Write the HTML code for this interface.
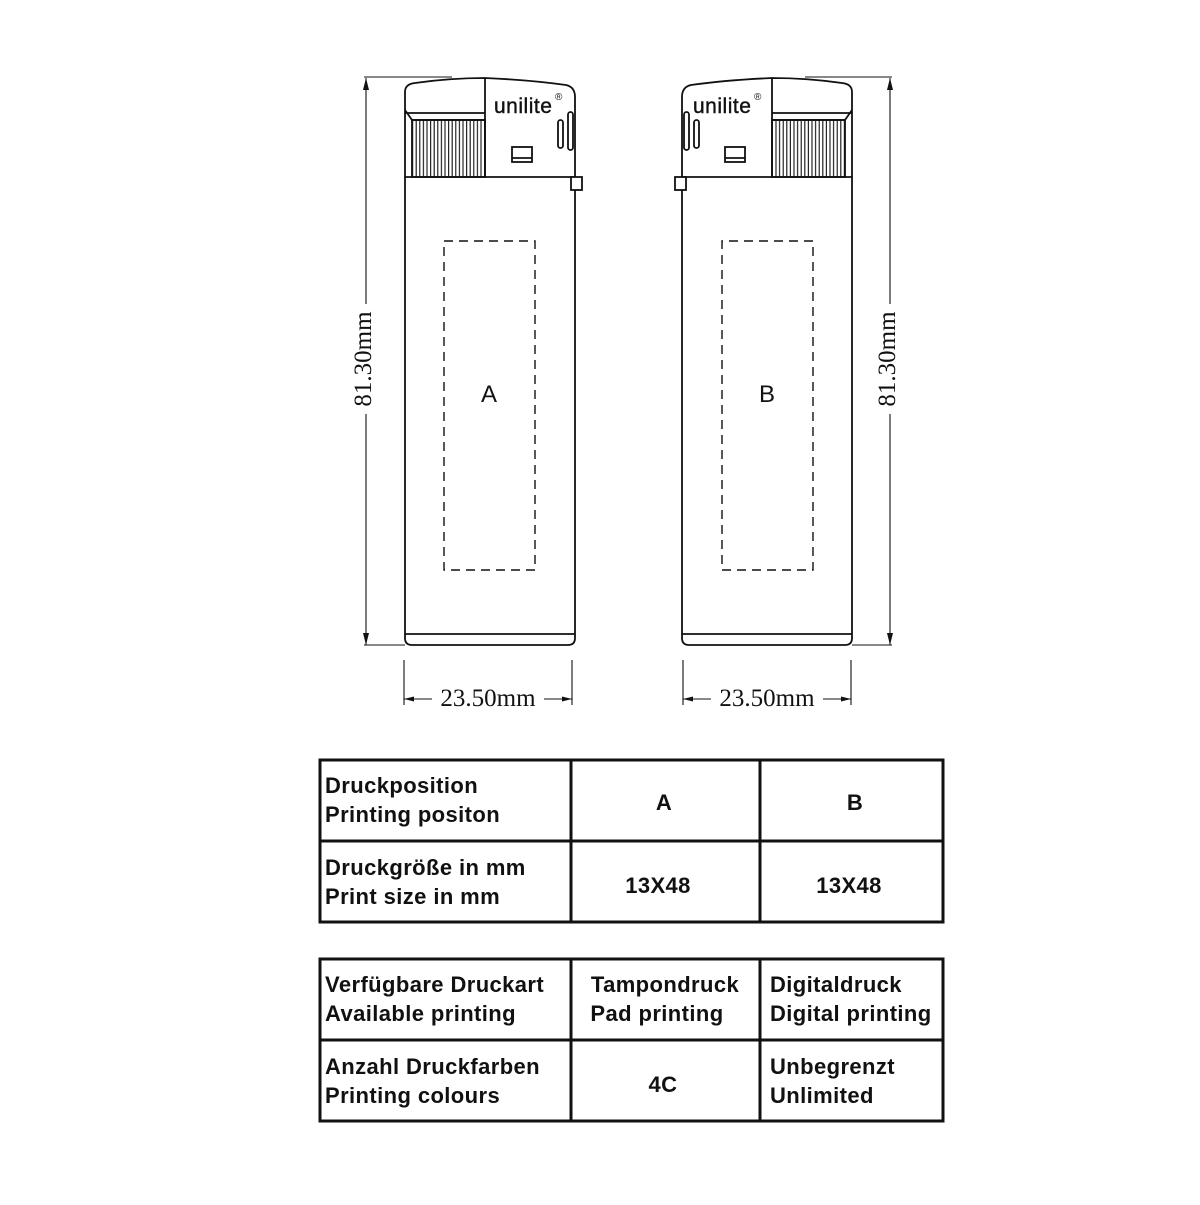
<!DOCTYPE html>
<html><head><style>html,body{margin:0;padding:0;background:#fff}</style></head><body>
<svg width="1200" height="1200" viewBox="0 0 1200 1200" xmlns="http://www.w3.org/2000/svg">
<defs>
<pattern id="kn" x="412" y="0" width="3.6" height="10" patternUnits="userSpaceOnUse">
<rect width="3.6" height="10" fill="#fff"/><line x1="0.6" y1="0" x2="0.6" y2="10" stroke="#111" stroke-width="1.1"/>
</pattern>
<g id="lt" fill="none" stroke="#111" stroke-width="1.8">
<rect x="412" y="120" width="73" height="57" fill="url(#kn)" stroke="#111"/>
<path d="M405,177 V92 Q405,84 415,83 Q450,78 485,78 Q530,80 566,85 Q575,87 575,97 V177" fill="none"/>
<path d="M405,110 L412,120 H485"/>
<line x1="405" y1="113" x2="485" y2="113"/>
<line x1="485" y1="78" x2="485" y2="177"/>
<rect x="512" y="147" width="20" height="15"/>
<line x1="512" y1="158" x2="532" y2="158"/>
<rect x="558" y="120" width="5" height="28" rx="2.5"/>
<rect x="568" y="112" width="5" height="38" rx="2.5"/>
<path d="M405,177 H575 V638 Q575,645 568,645 H412 Q405,645 405,638 Z"/>
<line x1="405" y1="634" x2="575" y2="634"/>
<rect x="571" y="177" width="11" height="13" fill="#fff"/>
<rect x="444" y="241" width="91" height="329" stroke-dasharray="9,6" stroke-width="1.4"/>
</g>
</defs>
<use href="#lt"/>
<use href="#lt" transform="translate(1257,0) scale(-1,1)"/>
<g font-family="Liberation Sans, sans-serif" fill="#111">
<text x="494" y="113" font-size="21" stroke="#111" stroke-width="0.4" letter-spacing="0.5">unilite</text>
<text x="555" y="100" font-size="10">®</text>
<text x="693" y="113" font-size="21" stroke="#111" stroke-width="0.4" letter-spacing="0.5">unilite</text>
<text x="754" y="100" font-size="10">®</text>
<text x="489" y="402" font-size="24" text-anchor="middle">A</text>
<text x="767" y="402" font-size="24" text-anchor="middle">B</text>
</g>
<g stroke="#111" stroke-width="1.1" fill="none">
<line x1="366" y1="78" x2="366" y2="645"/><line x1="364" y1="77" x2="452" y2="77"/><line x1="364" y1="645" x2="405" y2="645"/>
<line x1="890" y1="78" x2="890" y2="645"/><line x1="805" y1="77" x2="892" y2="77"/><line x1="852" y1="645" x2="892" y2="645"/>
<line x1="404" y1="660" x2="404" y2="705"/><line x1="572" y1="660" x2="572" y2="705"/><line x1="404" y1="699" x2="572" y2="699"/>
<line x1="683" y1="660" x2="683" y2="705"/><line x1="851" y1="660" x2="851" y2="705"/><line x1="683" y1="699" x2="851" y2="699"/>
</g>
<g fill="#111">
<path d="M366,78 l-3,12 h6z"/><path d="M366,645 l-3,-12 h6z"/>
<path d="M890,78 l-3,12 h6z"/><path d="M890,645 l-3,-12 h6z"/>
<path d="M404,699 l10,-2.5 v5z"/><path d="M572,699 l-10,-2.5 v5z"/>
<path d="M683,699 l10,-2.5 v5z"/><path d="M851,699 l-10,-2.5 v5z"/>
</g>
<g font-family="Liberation Serif, serif" font-size="25" fill="#111" text-anchor="middle">
<rect x="354" y="304" width="24" height="110" fill="#fff"/>
<text transform="translate(371,359) rotate(-90)">81.30mm</text>
<rect x="878" y="304" width="24" height="110" fill="#fff"/>
<text transform="translate(895,359) rotate(-90)">81.30mm</text>
<rect x="432" y="686" width="112" height="24" fill="#fff"/>
<text x="488" y="706">23.50mm</text>
<rect x="711" y="686" width="112" height="24" fill="#fff"/>
<text x="767" y="706">23.50mm</text>
</g>
<g stroke="#111" stroke-width="3" fill="none">
<rect x="320" y="760" width="623" height="162"/>
<line x1="320" y1="841" x2="943" y2="841"/>
<line x1="571" y1="760" x2="571" y2="922"/><line x1="760" y1="760" x2="760" y2="922"/>
<rect x="320" y="959" width="623" height="162"/>
<line x1="320" y1="1040" x2="943" y2="1040"/>
<line x1="571" y1="959" x2="571" y2="1121"/><line x1="760" y1="959" x2="760" y2="1121"/>
</g>
<g font-family="Liberation Sans, sans-serif" font-weight="bold" font-size="22" letter-spacing="0.4" fill="#111">
<text x="325" y="793">Druckposition</text><text x="325" y="822">Printing positon</text>
<text x="325" y="875">Druckgröße in mm</text><text x="325" y="904">Print size in mm</text>
<text x="325" y="992">Verfügbare Druckart</text><text x="325" y="1021">Available printing</text>
<text x="325" y="1074">Anzahl Druckfarben</text><text x="325" y="1103">Printing colours</text>
<text x="664" y="810" text-anchor="middle">A</text><text x="855" y="810" text-anchor="middle">B</text>
<text x="658" y="893" text-anchor="middle">13X48</text><text x="849" y="893" text-anchor="middle">13X48</text>
<text x="665" y="992" text-anchor="middle">Tampondruck</text><text x="657" y="1021" text-anchor="middle">Pad printing</text>
<text x="770" y="992">Digitaldruck</text><text x="770" y="1021">Digital printing</text>
<text x="663" y="1092" text-anchor="middle">4C</text>
<text x="770" y="1074">Unbegrenzt</text><text x="770" y="1103">Unlimited</text>
</g>
</svg>
</body></html>
